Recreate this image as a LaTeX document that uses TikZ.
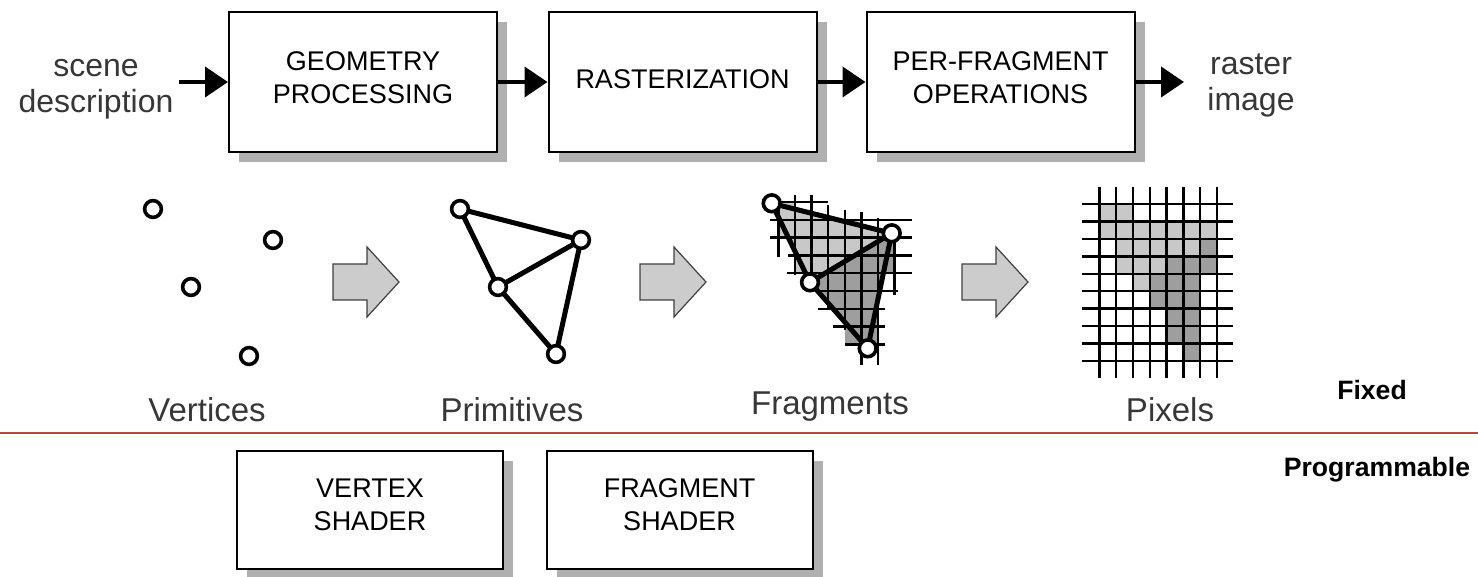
\documentclass[tikz,border=0pt]{standalone}
\usepackage{fontspec}
\setmainfont{Liberation Sans}
\usetikzlibrary{arrows.meta,calc,shadows}
\definecolor{redline}{RGB}{190,70,55}
\definecolor{shadowgray}{RGB}{176,176,176}
\definecolor{lightcell}{RGB}{200,200,200}
\definecolor{darkcell}{RGB}{158,158,158}
\definecolor{blockfill}{RGB}{204,204,204}
\definecolor{txtgray}{RGB}{55,55,55}
\begin{document}
\begin{tikzpicture}[x=0.5pt,y=-0.5pt,
  stagebox/.style={draw=black,line width=1pt,fill=white,inner sep=0pt,
    minimum width=134pt,minimum height=70pt,
    drop shadow={shadow xshift=5pt,shadow yshift=-5pt,fill=shadowgray,opacity=1}},
  shaderbox/.style={stagebox,minimum width=133pt,minimum height=59pt},
  boxtext/.style={align=center,inner sep=0pt,font=\fontsize{13.5}{16.5}\selectfont},
  sidetext/.style={align=center,inner sep=2.5pt,text=txtgray,font=\fontsize{16}{18}\selectfont},
  stagelabel/.style={anchor=base,inner sep=0pt,text=txtgray,font=\fontsize{16.5}{18}\selectfont},
  modelabel/.style={anchor=base,inner sep=0pt,font=\bfseries\fontsize{13.3}{15}\selectfont},
  flowarrow/.style={line width=2pt,-{Triangle[length=11.5pt,width=15pt]}},
  vtx/.style={circle,draw=black,line width=1.8pt,fill=white,minimum size=8.4pt,inner sep=0pt},
  edge/.style={line width=2.5pt,line cap=round},
  gridline/.style={line width=1.2pt,black},
  blockarrow/.pic={\draw[fill=blockfill,draw=black!75,line width=0.6pt]
     (0,-18) -- (34,-18) -- (34,-35) -- (66,0) -- (34,35) -- (34,18) -- (0,18) -- cycle;}
]
\useasboundingbox (0,0) rectangle (1478,577);
\fill[white] (0,0) rectangle (1478,577);

% ---------- top pipeline ----------
\node[sidetext] (scene) at (96,89) {scene\\description};
\node[stagebox] (geo) at (363,82) {};
\node[boxtext] (geot) at (363,78) {GEOMETRY\\PROCESSING};
\node[stagebox] (ras) at (682.5,82) {};
\node[boxtext] (rast) at (682.5,79) {RASTERIZATION};
\node[stagebox] (pfo) at (1000.5,82) {};
\node[boxtext] (pfot) at (1000.5,78) {PER-FRAGMENT\\OPERATIONS};
\node[sidetext] (rimg) at (1251,85) {raster\\image};

\draw[flowarrow] (scene.east |- geo.west) -- (geo.west);
\draw[flowarrow] (geo.east) -- (ras.west);
\draw[flowarrow] (ras.east) -- (pfo.west);
\draw[flowarrow,shorten >=9pt] (pfo.east) -- (pfo.east -| rimg.west);

% ---------- vertices ----------
\node[vtx] (v1) at (153,209) {};
\node[vtx] (v2) at (273,240) {};
\node[vtx] (v3) at (191,287) {};
\node[vtx] (v4) at (249,356) {};

\pic at (333,282) {blockarrow};
\pic at (640,282) {blockarrow};
\pic at (962,282) {blockarrow};

% ---------- primitives ----------
\coordinate (pA) at (460,209);
\coordinate (pB) at (581,240);
\coordinate (pC) at (498,287);
\coordinate (pD) at (556,354);
\draw[edge] (pA) -- (pB) (pA) -- (pC) (pC) -- (pB) (pC) -- (pD) (pB) -- (pD);
\node[vtx] (p1) at (pA) {};
\node[vtx] (p2) at (pB) {};
\node[vtx] (p3) at (pC) {};
\node[vtx] (p4) at (pD) {};

% ---------- fragments ----------
\coordinate (fA) at (771.7,203.3);
\coordinate (fB) at (891.7,233.3);
\coordinate (fC) at (810,282.3);
\coordinate (fD) at (867.7,348.3);
\foreach \c/\r in {6/2,6/3,4/3,5/3,2/4,3/4,4/4,5/4,3/5,4/5,5/5,4/6,5/6,4/7,5/7}
  \fill[darkcell] ({778.3+16.6*\c},{202+17.8*\r}) rectangle ++(16.6,17.8);
\foreach \c/\r in {0/0,0/1,1/1,2/1,3/1,4/1,1/2,2/2,3/2,4/2,5/2,1/3,2/3,3/3}
  \fill[lightcell] ({778.3+16.6*\c},{202+17.8*\r}) rectangle ++(16.6,17.8);
\fill[lightcell] (fA) -- (fB) -- (fC) -- cycle;
\fill[darkcell] (fC) -- (fB) -- (fD) -- cycle;
\foreach \k/\a/\b in {0/768/828,1/770/912,2/770/912,3/788/912,4/787/912,5/818/898,6/818/885,7/833/885,8/845/885}
  \draw[gridline] (\a,{202+17.8*\k}) -- (\b,{202+17.8*\k});
\foreach \k/\a/\b in {0/200/257,1/195/275,2/195/292,3/205/310,4/210/330,5/212/365,6/218/365,7/225/295}
  \draw[gridline] ({778.3+16.6*\k},\a) -- ({778.3+16.6*\k},\b);
\draw[edge] (fA) -- (fB) (fA) -- (fC) (fC) -- (fB) (fC) -- (fD) (fB) -- (fD);
\node[vtx] (f1) at (fA) {};
\node[vtx] (f2) at (fB) {};
\node[vtx] (f3) at (fC) {};
\node[vtx] (f4) at (fD) {};

% ---------- pixels ----------
\foreach \c/\r in {0/0,1/0,0/1,1/1,2/1,3/1,4/1,5/1,6/1,1/2,2/2,3/2,4/2,5/2,1/3,2/3,3/3,2/4}
  \fill[lightcell] ({1099.3+16.8*\c},{204.3+17.4*\r}) rectangle ++(16.8,17.4);
\foreach \c/\r in {6/2,4/3,5/3,6/3,3/4,4/4,5/4,3/5,4/5,5/5,4/6,5/6,4/7,5/7,5/8}
  \fill[darkcell] ({1099.3+16.8*\c},{204.3+17.4*\r}) rectangle ++(16.8,17.4);
\foreach \k in {0,...,9}
  \draw[gridline] (1082,{204.3+17.4*\k}) -- (1233,{204.3+17.4*\k});
\foreach \k in {0,...,7}
  \draw[gridline] ({1099.3+16.8*\k},187) -- ({1099.3+16.8*\k},378);

% ---------- labels ----------
\node[stagelabel] (lv) at (207,421) {Vertices};
\node[stagelabel] (lp) at (512,421) {Primitives};
\node[stagelabel] (lf) at (830,414) {Fragments};
\node[stagelabel] (lx) at (1170,421) {Pixels};
\node[modelabel] (fixed) at (1372,400) {Fixed};
\node[modelabel] (prog) at (1377,476) {Programmable};

\draw[redline,line width=1pt] (0,433) -- (1478,433);

% ---------- shaders ----------
\node[shaderbox] (vsh) at (370,510) {};
\node[boxtext] (vsht) at (370,505) {VERTEX\\SHADER};
\node[shaderbox] (fsh) at (679.5,510) {};
\node[boxtext] (fsht) at (679.5,505) {FRAGMENT\\SHADER};
\end{tikzpicture}
\end{document}
